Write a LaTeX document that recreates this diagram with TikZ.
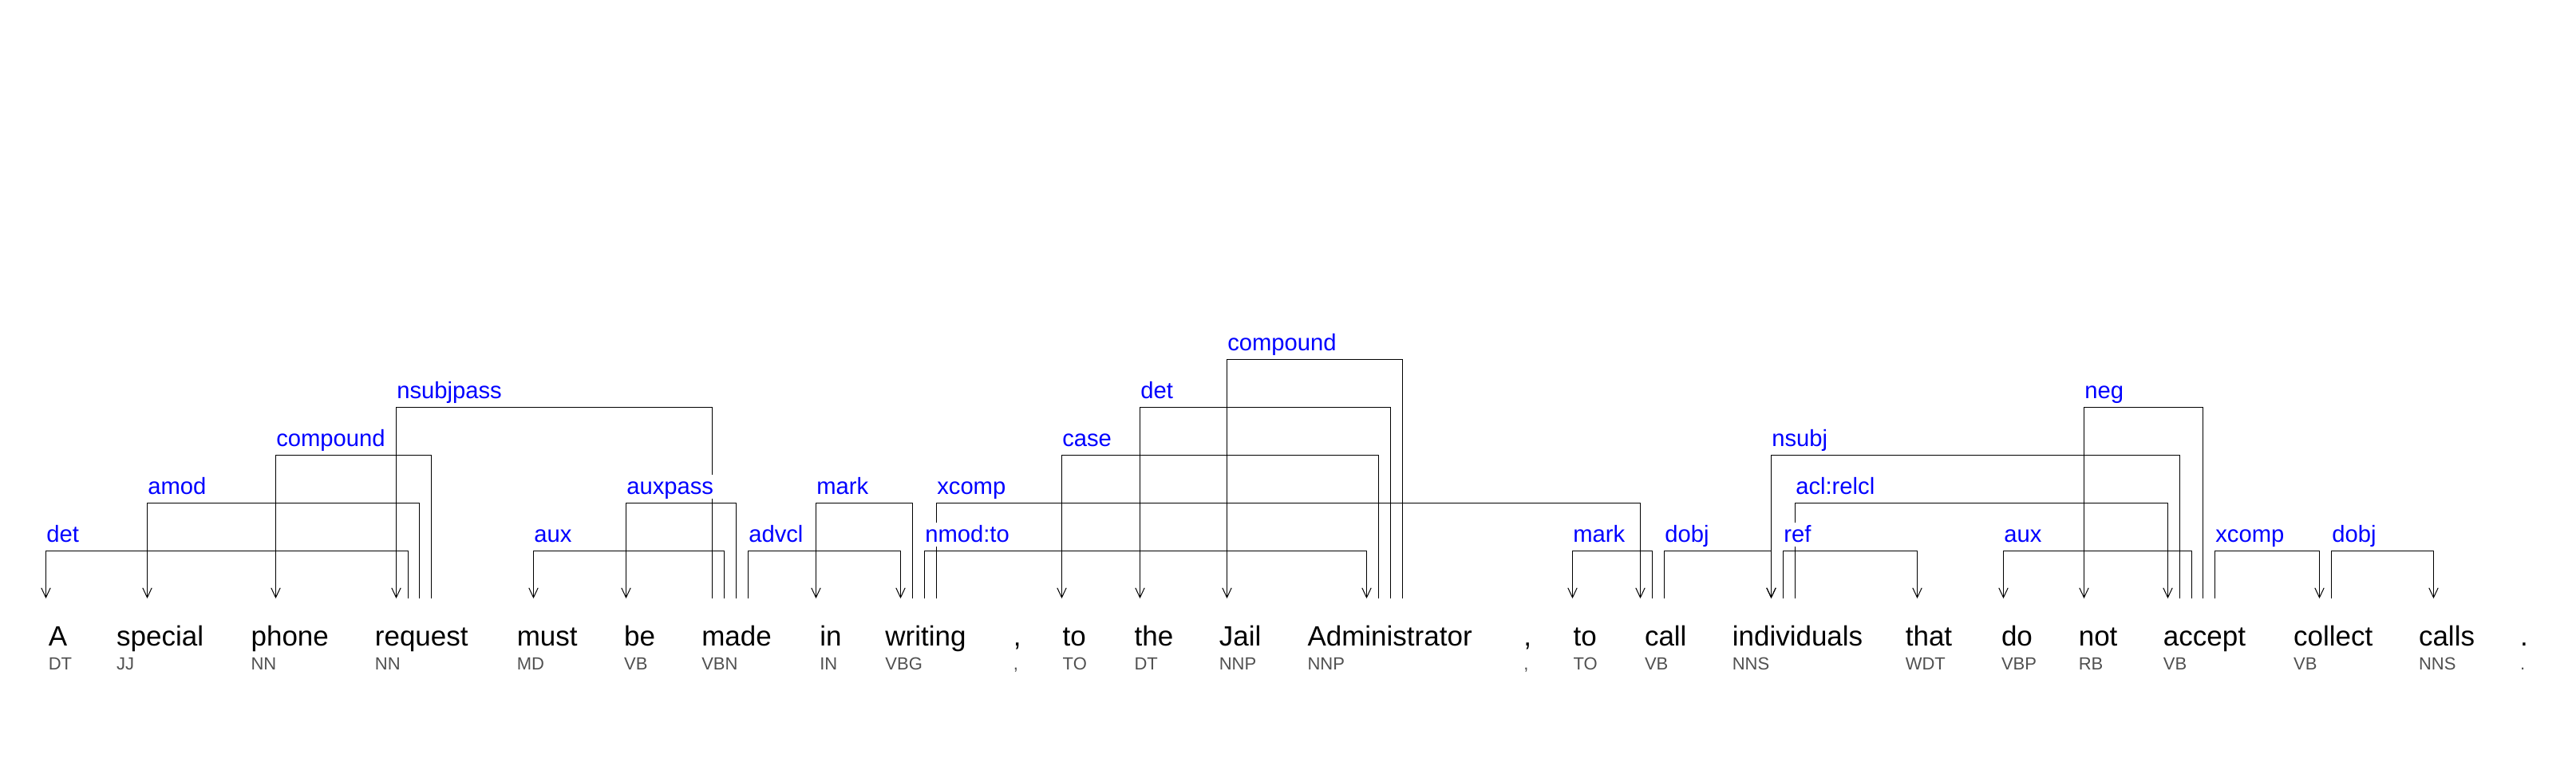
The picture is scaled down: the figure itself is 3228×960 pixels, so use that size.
\documentclass[tikz,border=0pt]{standalone}
\usepackage{fontspec}
\setmainfont{Liberation Sans}
\usetikzlibrary{arrows.meta}
\definecolor{lblblue}{RGB}{0,0,255}
\definecolor{taggray}{RGB}{80,80,80}
\begin{document}
\begin{tikzpicture}[x=0.25pt,y=-0.25pt,
  word/.style={anchor=base west,inner sep=0pt,font=\fontsize{8.75}{10}\selectfont},
  tag/.style={anchor=base west,inner sep=0pt,text=taggray,font=\fontsize{5.5}{6}\selectfont},
  lbl/.style={anchor=base west,inner sep=0pt,fill=white,text=lblblue,text height=6.25pt,text depth=1.25pt,font=\fontsize{7.3}{8}\selectfont},
  dep/.style={draw=black,line width=0.25pt,-{Straight Barb[length=3pt,width=2.85pt]}}]
\useasboundingbox (0,0) rectangle (3228,960);
% levels
\coordinate (L1) at (0,690.5); \coordinate (T1) at (0,680);
\coordinate (L2) at (0,630.5); \coordinate (T2) at (0,620);
\coordinate (L3) at (0,570.5); \coordinate (T3) at (0,560);
\coordinate (L4) at (0,510.5); \coordinate (T4) at (0,500);
\coordinate (L5) at (0,450.5); \coordinate (T5) at (0,440);
% words
\node[word] (w1) at (60,810) {A};               \node[tag] (t1) at (60,840) {DT};
\node[word] (w2) at (145.4,810) {special};      \node[tag] (t2) at (145.4,840) {JJ};
\node[word] (w3) at (313.8,810) {phone};        \node[tag] (t3) at (313.8,840) {NN};
\node[word] (w4) at (469.1,810) {request};      \node[tag] (t4) at (469.1,840) {NN};
\node[word] (w5) at (647,810) {must};           \node[tag] (t5) at (647,840) {MD};
\node[word] (w6) at (781.4,810) {be};           \node[tag] (t6) at (781.4,840) {VB};
\node[word] (w7) at (878.5,810) {made};         \node[tag] (t7) at (878.5,840) {VBN};
\node[word] (w8) at (1026.5,810) {in};          \node[tag] (t8) at (1026.5,840) {IN};
\node[word] (w9) at (1108.6,810) {writing};     \node[tag] (t9) at (1108.6,840) {VBG};
\node[word] (w10) at (1269,810) {,};            \node[tag] (t10) at (1269,840) {,};
\node[word] (w11) at (1330.9,810) {to};         \node[tag] (t11) at (1330.9,840) {TO};
\node[word] (w12) at (1420.8,810) {the};        \node[tag] (t12) at (1420.8,840) {DT};
\node[word] (w13) at (1527,810) {Jail};         \node[tag] (t13) at (1527,840) {NNP};
\node[word] (w14) at (1637.7,810) {Administrator}; \node[tag] (t14) at (1637.7,840) {NNP};
\node[word] (w15) at (1908.6,810) {,};          \node[tag] (t15) at (1908.6,840) {,};
\node[word] (w16) at (1970.8,810) {to};         \node[tag] (t16) at (1970.8,840) {TO};
\node[word] (w17) at (2060.2,810) {call};       \node[tag] (t17) at (2060.2,840) {VB};
\node[word] (w18) at (2170,810) {individuals};  \node[tag] (t18) at (2170,840) {NNS};
\node[word] (w19) at (2387,810) {that};         \node[tag] (t19) at (2387,840) {WDT};
\node[word] (w20) at (2507.2,810) {do};         \node[tag] (t20) at (2507.2,840) {VBP};
\node[word] (w21) at (2604,810) {not};          \node[tag] (t21) at (2604,840) {RB};
\node[word] (w22) at (2710.1,810) {accept};     \node[tag] (t22) at (2710.1,840) {VB};
\node[word] (w23) at (2873.3,810) {collect};    \node[tag] (t23) at (2873.3,840) {VB};
\node[word] (w24) at (3030.2,810) {calls};      \node[tag] (t24) at (3030.2,840) {NNS};
\node[word] (w25) at (3157.3,810) {.};          \node[tag] (t25) at (3157.3,840) {.};
% attachment points
\coordinate (A-a) at (57.5,750);
\coordinate (special-a) at (184.5,750);
\coordinate (phone-a) at (345.5,750);
\coordinate (request-a) at (496.5,750);
\coordinate (request-b) at (511.5,750);
\coordinate (request-c) at (525.5,750);
\coordinate (request-d) at (540.5,750);
\coordinate (must-a) at (668.5,750);
\coordinate (be-a) at (784.5,750);
\coordinate (made-a) at (892.5,750);
\coordinate (made-b) at (907.5,750);
\coordinate (made-c) at (922.5,750);
\coordinate (made-d) at (937.5,750);
\coordinate (in-a) at (1022.5,750);
\coordinate (writing-a) at (1128.5,750);
\coordinate (writing-b) at (1143.5,750);
\coordinate (writing-c) at (1158.5,750);
\coordinate (writing-d) at (1173.5,750);
\coordinate (to-a) at (1330.5,750);
\coordinate (the-a) at (1428.5,750);
\coordinate (Jail-a) at (1537.5,750);
\coordinate (Adm-a) at (1712.5,750);
\coordinate (Adm-b) at (1727.5,750);
\coordinate (Adm-c) at (1742.5,750);
\coordinate (Adm-d) at (1757.5,750);
\coordinate (tob-a) at (1970.5,750);
\coordinate (call-a) at (2055.5,750);
\coordinate (call-b) at (2070.5,750);
\coordinate (call-c) at (2085.5,750);
\coordinate (ind-a) at (2219.5,750);
\coordinate (ind-b) at (2234.5,750);
\coordinate (ind-c) at (2249.5,750);
\coordinate (that-a) at (2402.5,750);
\coordinate (do-a) at (2510.5,750);
\coordinate (not-a) at (2611.5,750);
\coordinate (acc-a) at (2716.5,750);
\coordinate (acc-b) at (2731.5,750);
\coordinate (acc-c) at (2746.5,750);
\coordinate (acc-d) at (2760.5,750);
\coordinate (acc-e) at (2775.5,750);
\coordinate (col-a) at (2906.5,750);
\coordinate (col-b) at (2921.5,750);
\coordinate (calls-a) at (3049.5,750);
% dependencies (head -> dependent)
\draw[dep] (request-b) |- (A-a |- L1) -- (A-a);
\draw[dep] (request-c) |- (special-a |- L2) -- (special-a);
\draw[dep] (request-d) |- (phone-a |- L3) -- (phone-a);
\draw[dep] (made-a) |- (request-a |- L4) -- (request-a);
\draw[dep] (made-b) |- (must-a |- L1) -- (must-a);
\draw[dep] (made-c) |- (be-a |- L2) -- (be-a);
\draw[dep] (made-d) |- (writing-a |- L1) -- (writing-a);
\draw[dep] (writing-b) |- (in-a |- L2) -- (in-a);
\draw[dep] (writing-d) |- (call-a |- L2) -- (call-a);
\draw[dep] (writing-c) |- (Adm-a |- L1) -- (Adm-a);
\draw[dep] (Adm-b) |- (to-a |- L3) -- (to-a);
\draw[dep] (Adm-c) |- (the-a |- L4) -- (the-a);
\draw[dep] (Adm-d) |- (Jail-a |- L5) -- (Jail-a);
\draw[dep] (call-b) |- (tob-a |- L1) -- (tob-a);
\draw[dep] (call-c) |- (ind-a |- L1) -- (ind-a);
\draw[dep] (acc-b) |- (ind-a |- L3) -- (ind-a);
\draw[dep] (ind-b) |- (that-a |- L1) -- (that-a);
\draw[dep] (ind-c) |- (acc-a |- L2) -- (acc-a);
\draw[dep] (acc-c) |- (do-a |- L1) -- (do-a);
\draw[dep] (acc-d) |- (not-a |- L4) -- (not-a);
\draw[dep] (acc-e) |- (col-a |- L1) -- (col-a);
\draw[dep] (col-b) |- (calls-a |- L1) -- (calls-a);
% labels
\node[lbl] (l1) at (A-a |- T1) {det};
\node[lbl] (l2) at (special-a |- T2) {amod};
\node[lbl] (l3) at (phone-a |- T3) {compound};
\node[lbl] (l4) at (request-a |- T4) {nsubjpass};
\node[lbl] (l5) at (must-a |- T1) {aux};
\node[lbl] (l6) at (be-a |- T2) {auxpass};
\node[lbl] (l7) at (made-d |- T1) {advcl};
\node[lbl] (l8) at (in-a |- T2) {mark};
\node[lbl] (l9) at (writing-d |- T2) {xcomp};
\node[lbl] (l10) at (writing-c |- T1) {nmod:to};
\node[lbl] (l11) at (to-a |- T3) {case};
\node[lbl] (l12) at (the-a |- T4) {det};
\node[lbl] (l13) at (Jail-a |- T5) {compound};
\node[lbl] (l14) at (tob-a |- T1) {mark};
\node[lbl] (l15) at (call-c |- T1) {dobj};
\node[lbl] (l16) at (ind-a |- T3) {nsubj};
\node[lbl] (l17) at (ind-b |- T1) {ref};
\node[lbl] (l18) at (ind-c |- T2) {acl:relcl};
\node[lbl] (l19) at (do-a |- T1) {aux};
\node[lbl] (l20) at (not-a |- T4) {neg};
\node[lbl] (l21) at (acc-e |- T1) {xcomp};
\node[lbl] (l22) at (col-b |- T1) {dobj};
\end{tikzpicture}
\end{document}
